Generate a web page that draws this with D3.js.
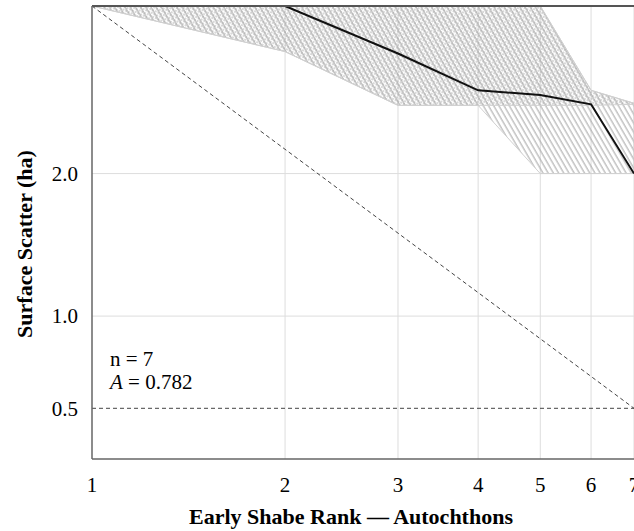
<!DOCTYPE html>
<html>
<head>
<meta charset="utf-8">
<script src="https://cdn.jsdelivr.net/npm/d3@7"></script>
<style>
  body { margin: 0; background: #fff; }
  svg { display: block; }
</style>
</head>
<body>
<div id="chart-area"></div>
<script>
// data
const ranks = [1, 2, 3, 4, 5, 6, 7];
const observed = [3.65, 3.65, 3.12, 2.745, 2.70, 2.61, 2.0];
const fineUpper = [3.65, 3.65, 3.65, 3.65, 3.65, 2.745, 2.62];
const fineLower = [3.65, 3.14, 2.60, 2.60, 2.60, 2.60, 2.61];
const coarseUpper = [3.65, 3.65, 3.65, 3.65, 3.65, 2.745, 2.62];
const coarseLower = [3.65, 3.14, 2.60, 2.60, 2.0, 2.0, 2.0];
const rankSizeRanks = [1, 7];
const rankSizeValues = [3.65, 0.5];
const refValue = 0.5;
const xTicks = [1, 2, 3, 4, 5, 6, 7];
const yTicks = [0.5, 1.0, 2.0];
const yGrid = [1.0, 2.0];

const W = 634, H = 531;
const margin = { top: 6, right: 0, bottom: 72, left: 92 };
const width = W - margin.left - margin.right;
const height = H - margin.top - margin.bottom;

const x = d3.scaleLog().domain([1, 7]).range([0, width]);
const y = d3.scaleSymlog().constant(1.75).domain([0.265, 3.65]).range([height, 0]);

const svg = d3.select("#chart-area")
  .append("svg")
    .attr("width", W)
    .attr("height", H)
    .style("font-family", "'Liberation Serif', 'Times New Roman', serif");

const defs = svg.append("defs");

// fine dotted hatch
defs.append("pattern")
  .attr("id", "fine")
  .attr("patternUnits", "userSpaceOnUse")
  .attr("width", 3).attr("height", 3)
  .attr("patternTransform", "rotate(-65)")
  .append("line")
  .attr("x1", 1).attr("y1", 0).attr("x2", 1).attr("y2", 3)
  .attr("stroke", "#a8a8a8")
  .attr("stroke-width", 0.9)
  .attr("stroke-dasharray", "1,1");

// coarse diagonal hatch
defs.append("pattern")
  .attr("id", "coarse")
  .attr("patternUnits", "userSpaceOnUse")
  .attr("width", 4.5).attr("height", 10)
  .attr("patternTransform", "rotate(-30)")
  .append("line")
  .attr("x1", 1).attr("y1", 0).attr("x2", 1).attr("y2", 10)
  .attr("stroke", "#a4a4a4")
  .attr("stroke-width", 1);

const chart = svg.append("g")
  .attr("transform", "translate(" + margin.left + "," + margin.top + ")");

// gridlines
chart.append("g")
  .selectAll("line")
  .data(xTicks.slice(1))
  .join("line")
    .attr("x1", d => x(d)).attr("x2", d => x(d))
    .attr("y1", 0).attr("y2", height)
    .attr("stroke", "#dddddd");

chart.append("g")
  .selectAll("line")
  .data(yGrid)
  .join("line")
    .attr("x1", 0).attr("x2", width)
    .attr("y1", d => y(d)).attr("y2", d => y(d))
    .attr("stroke", "#dddddd");

// envelopes
const band = (up, lo) => d3.area()
  .x((d, i) => x(ranks[i]))
  .y0((d, i) => y(lo[i]))
  .y1((d, i) => y(up[i]))(ranks);

chart.append("path")
  .attr("d", band(coarseUpper, coarseLower))
  .attr("fill", "url(#coarse)")
  .attr("stroke", "#d0d0d0")
  .attr("stroke-width", 1);

chart.append("path")
  .attr("d", band(fineUpper, fineLower))
  .attr("fill", "url(#fine)")
  .attr("stroke", "#d0d0d0")
  .attr("stroke-width", 1);

// reference lines
chart.append("line")
  .attr("x1", 0).attr("x2", width)
  .attr("y1", y(refValue)).attr("y2", y(refValue))
  .attr("stroke", "#444")
  .attr("stroke-dasharray", "4,3");

chart.append("path")
  .attr("d", d3.line().x((d, i) => x(d)).y((d, i) => y(rankSizeValues[i]))(rankSizeRanks))
  .attr("fill", "none")
  .attr("stroke", "#444")
  .attr("stroke-dasharray", "4,3");

// observed rank-size line
chart.append("path")
  .attr("d", d3.line().x((d, i) => x(d)).y((d, i) => y(observed[i]))(ranks))
  .attr("fill", "none")
  .attr("stroke", "#111")
  .attr("stroke-width", 2);

// frame
chart.append("line")
  .attr("x1", 0).attr("x2", width).attr("y1", 0).attr("y2", 0)
  .attr("stroke", "#555").attr("stroke-width", 2);
chart.append("line")
  .attr("x1", 0).attr("x2", 0).attr("y1", 0).attr("y2", height)
  .attr("stroke", "#666").attr("stroke-width", 1.5);
chart.append("line")
  .attr("x1", 0).attr("x2", width).attr("y1", height).attr("y2", height)
  .attr("stroke", "#666").attr("stroke-width", 1.5);

// tick labels
chart.append("g")
  .selectAll("text")
  .data(xTicks)
  .join("text")
    .attr("x", d => x(d))
    .attr("y", height + 33)
    .attr("text-anchor", "middle")
    .style("font-size", "21px")
    .text(d => d);

chart.append("g")
  .selectAll("text")
  .data(yTicks)
  .join("text")
    .attr("x", -14)
    .attr("y", d => y(d))
    .attr("dy", "0.35em")
    .attr("text-anchor", "end")
    .style("font-size", "21px")
    .text(d => d.toFixed(1));

// annotation
chart.append("text")
  .attr("x", 18).attr("y", 360)
  .style("font-size", "21px")
  .text("n = 7");

const ann = chart.append("text")
  .attr("x", 18).attr("y", 383)
  .style("font-size", "21px");
ann.append("tspan").style("font-style", "italic").text("A");
ann.append("tspan").text(" = 0.782");

// axis titles
svg.append("text")
  .attr("x", 351)
  .attr("y", 524)
  .attr("text-anchor", "middle")
  .style("font-size", "22px")
  .style("font-weight", "bold")
  .text("Early Shabe Rank \u2014 Autochthons");

svg.append("text")
  .attr("transform", "translate(32,244) rotate(-90)")
  .attr("text-anchor", "middle")
  .style("font-size", "22px")
  .style("font-weight", "bold")
  .text("Surface Scatter (ha)");
</script>
</body>
</html>
